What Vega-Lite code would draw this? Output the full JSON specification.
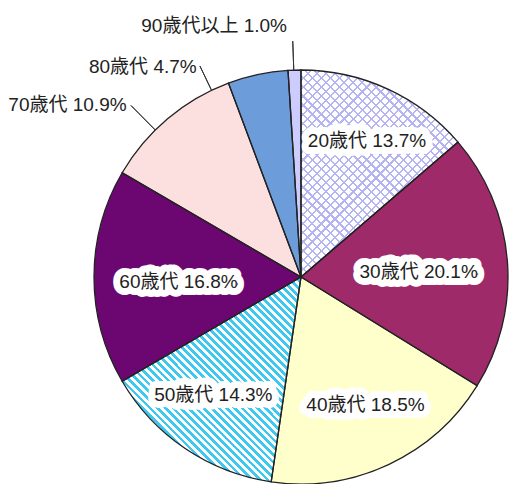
{
"$schema": "https://vega.github.io/schema/vega-lite/v6.json",
"width": 414, "height": 414,
"autosize": {"type": "none"},
"padding": {"left": 94, "top": 70, "right": 2, "bottom": 0},
"background": "white",
"config": {"view": {"stroke": null}, "text": {"font": "Liberation Sans, Noto Sans CJK JP", "fontSize": 19, "color": "#222222"}},
"data": {"values": [
{"age": "20歳代", "value": 13.7, "label": "20歳代 13.7%"},
{"age": "30歳代", "value": 20.1, "label": "30歳代 20.1%"},
{"age": "40歳代", "value": 18.5, "label": "40歳代 18.5%"},
{"age": "50歳代", "value": 14.3, "label": "50歳代 14.3%"},
{"age": "60歳代", "value": 16.8, "label": "60歳代 16.8%"},
{"age": "70歳代", "value": 10.9, "label": "70歳代 10.9%"},
{"age": "80歳代", "value": 4.7, "label": "80歳代 4.7%"},
{"age": "90歳代以上", "value": 1.0, "label": "90歳代以上 1.0%"}
]},
"encoding": {
"theta": {"field": "value", "type": "quantitative", "stack": true},
"detail": {"field": "age", "type": "nominal"},
"order": {"field": "age", "type": "ordinal", "sort": "ascending"}
},
"layer": [
{"mark": {"type": "arc", "outerRadius": 207},
 "encoding": {"color": {"field": "age", "type": "nominal", "legend": null,
  "scale": {"domain": ["20歳代","30歳代","40歳代","50歳代","60歳代","70歳代","80歳代","90歳代以上"],
            "range": ["#ffffff","#9e2a6a","#ffffcc","#ffffff","#6c0670","#fce0e0","#6c9cda","#ccccff"]}}}},
{"mark": {"type": "arc", "outerRadius": 207, "fill": {"gradient": "linear", "x1": 0, "y1": 1, "x2": 0.9283, "y2": -0.0627, "stops": [
{"offset":0,"color":"#3cc8f0"},{"offset":0.01,"color":"#3cc8f0"},{"offset":0.01,"color":"#ffffff"},{"offset":0.02,"color":"#ffffff"},
{"offset":0.02,"color":"#3cc8f0"},{"offset":0.03,"color":"#3cc8f0"},{"offset":0.03,"color":"#ffffff"},{"offset":0.04,"color":"#ffffff"},
{"offset":0.04,"color":"#3cc8f0"},{"offset":0.05,"color":"#3cc8f0"},{"offset":0.05,"color":"#ffffff"},{"offset":0.06,"color":"#ffffff"},
{"offset":0.06,"color":"#3cc8f0"},{"offset":0.07,"color":"#3cc8f0"},{"offset":0.07,"color":"#ffffff"},{"offset":0.08,"color":"#ffffff"},
{"offset":0.08,"color":"#3cc8f0"},{"offset":0.09,"color":"#3cc8f0"},{"offset":0.09,"color":"#ffffff"},{"offset":0.10,"color":"#ffffff"},
{"offset":0.10,"color":"#3cc8f0"},{"offset":0.11,"color":"#3cc8f0"},{"offset":0.11,"color":"#ffffff"},{"offset":0.12,"color":"#ffffff"},
{"offset":0.12,"color":"#3cc8f0"},{"offset":0.13,"color":"#3cc8f0"},{"offset":0.13,"color":"#ffffff"},{"offset":0.14,"color":"#ffffff"},
{"offset":0.14,"color":"#3cc8f0"},{"offset":0.15,"color":"#3cc8f0"},{"offset":0.15,"color":"#ffffff"},{"offset":0.16,"color":"#ffffff"},
{"offset":0.16,"color":"#3cc8f0"},{"offset":0.17,"color":"#3cc8f0"},{"offset":0.17,"color":"#ffffff"},{"offset":0.18,"color":"#ffffff"},
{"offset":0.18,"color":"#3cc8f0"},{"offset":0.19,"color":"#3cc8f0"},{"offset":0.19,"color":"#ffffff"},{"offset":0.20,"color":"#ffffff"},
{"offset":0.20,"color":"#3cc8f0"},{"offset":0.21,"color":"#3cc8f0"},{"offset":0.21,"color":"#ffffff"},{"offset":0.22,"color":"#ffffff"},
{"offset":0.22,"color":"#3cc8f0"},{"offset":0.23,"color":"#3cc8f0"},{"offset":0.23,"color":"#ffffff"},{"offset":0.24,"color":"#ffffff"},
{"offset":0.24,"color":"#3cc8f0"},{"offset":0.25,"color":"#3cc8f0"},{"offset":0.25,"color":"#ffffff"},{"offset":0.26,"color":"#ffffff"},
{"offset":0.26,"color":"#3cc8f0"},{"offset":0.27,"color":"#3cc8f0"},{"offset":0.27,"color":"#ffffff"},{"offset":0.28,"color":"#ffffff"},
{"offset":0.28,"color":"#3cc8f0"},{"offset":0.29,"color":"#3cc8f0"},{"offset":0.29,"color":"#ffffff"},{"offset":0.30,"color":"#ffffff"},
{"offset":0.30,"color":"#3cc8f0"},{"offset":0.31,"color":"#3cc8f0"},{"offset":0.31,"color":"#ffffff"},{"offset":0.32,"color":"#ffffff"},
{"offset":0.32,"color":"#3cc8f0"},{"offset":0.33,"color":"#3cc8f0"},{"offset":0.33,"color":"#ffffff"},{"offset":0.34,"color":"#ffffff"},
{"offset":0.34,"color":"#3cc8f0"},{"offset":0.35,"color":"#3cc8f0"},{"offset":0.35,"color":"#ffffff"},{"offset":0.36,"color":"#ffffff"},
{"offset":0.36,"color":"#3cc8f0"},{"offset":0.37,"color":"#3cc8f0"},{"offset":0.37,"color":"#ffffff"},{"offset":0.38,"color":"#ffffff"},
{"offset":0.38,"color":"#3cc8f0"},{"offset":0.39,"color":"#3cc8f0"},{"offset":0.39,"color":"#ffffff"},{"offset":0.40,"color":"#ffffff"},
{"offset":0.40,"color":"#3cc8f0"},{"offset":0.41,"color":"#3cc8f0"},{"offset":0.41,"color":"#ffffff"},{"offset":0.42,"color":"#ffffff"},
{"offset":0.42,"color":"#3cc8f0"},{"offset":0.43,"color":"#3cc8f0"},{"offset":0.43,"color":"#ffffff"},{"offset":0.44,"color":"#ffffff"},
{"offset":0.44,"color":"#3cc8f0"},{"offset":0.45,"color":"#3cc8f0"},{"offset":0.45,"color":"#ffffff"},{"offset":0.46,"color":"#ffffff"},
{"offset":0.46,"color":"#3cc8f0"},{"offset":0.47,"color":"#3cc8f0"},{"offset":0.47,"color":"#ffffff"},{"offset":0.48,"color":"#ffffff"},
{"offset":0.48,"color":"#3cc8f0"},{"offset":0.49,"color":"#3cc8f0"},{"offset":0.49,"color":"#ffffff"},{"offset":0.50,"color":"#ffffff"},
{"offset":0.50,"color":"#3cc8f0"},{"offset":0.51,"color":"#3cc8f0"},{"offset":0.51,"color":"#ffffff"},{"offset":0.52,"color":"#ffffff"},
{"offset":0.52,"color":"#3cc8f0"},{"offset":0.53,"color":"#3cc8f0"},{"offset":0.53,"color":"#ffffff"},{"offset":0.54,"color":"#ffffff"},
{"offset":0.54,"color":"#3cc8f0"},{"offset":0.55,"color":"#3cc8f0"},{"offset":0.55,"color":"#ffffff"},{"offset":0.56,"color":"#ffffff"},
{"offset":0.56,"color":"#3cc8f0"},{"offset":0.57,"color":"#3cc8f0"},{"offset":0.57,"color":"#ffffff"},{"offset":0.58,"color":"#ffffff"},
{"offset":0.58,"color":"#3cc8f0"},{"offset":0.59,"color":"#3cc8f0"},{"offset":0.59,"color":"#ffffff"},{"offset":0.60,"color":"#ffffff"},
{"offset":0.60,"color":"#3cc8f0"},{"offset":0.61,"color":"#3cc8f0"},{"offset":0.61,"color":"#ffffff"},{"offset":0.62,"color":"#ffffff"},
{"offset":0.62,"color":"#3cc8f0"},{"offset":0.63,"color":"#3cc8f0"},{"offset":0.63,"color":"#ffffff"},{"offset":0.64,"color":"#ffffff"},
{"offset":0.64,"color":"#3cc8f0"},{"offset":0.65,"color":"#3cc8f0"},{"offset":0.65,"color":"#ffffff"},{"offset":0.66,"color":"#ffffff"},
{"offset":0.66,"color":"#3cc8f0"},{"offset":0.67,"color":"#3cc8f0"},{"offset":0.67,"color":"#ffffff"},{"offset":0.68,"color":"#ffffff"},
{"offset":0.68,"color":"#3cc8f0"},{"offset":0.69,"color":"#3cc8f0"},{"offset":0.69,"color":"#ffffff"},{"offset":0.70,"color":"#ffffff"},
{"offset":0.70,"color":"#3cc8f0"},{"offset":0.71,"color":"#3cc8f0"},{"offset":0.71,"color":"#ffffff"},{"offset":0.72,"color":"#ffffff"},
{"offset":0.72,"color":"#3cc8f0"},{"offset":0.73,"color":"#3cc8f0"},{"offset":0.73,"color":"#ffffff"},{"offset":0.74,"color":"#ffffff"},
{"offset":0.74,"color":"#3cc8f0"},{"offset":0.75,"color":"#3cc8f0"},{"offset":0.75,"color":"#ffffff"},{"offset":0.76,"color":"#ffffff"},
{"offset":0.76,"color":"#3cc8f0"},{"offset":0.77,"color":"#3cc8f0"},{"offset":0.77,"color":"#ffffff"},{"offset":0.78,"color":"#ffffff"},
{"offset":0.78,"color":"#3cc8f0"},{"offset":0.79,"color":"#3cc8f0"},{"offset":0.79,"color":"#ffffff"},{"offset":0.80,"color":"#ffffff"},
{"offset":0.80,"color":"#3cc8f0"},{"offset":0.81,"color":"#3cc8f0"},{"offset":0.81,"color":"#ffffff"},{"offset":0.82,"color":"#ffffff"},
{"offset":0.82,"color":"#3cc8f0"},{"offset":0.83,"color":"#3cc8f0"},{"offset":0.83,"color":"#ffffff"},{"offset":0.84,"color":"#ffffff"},
{"offset":0.84,"color":"#3cc8f0"},{"offset":0.85,"color":"#3cc8f0"},{"offset":0.85,"color":"#ffffff"},{"offset":0.86,"color":"#ffffff"},
{"offset":0.86,"color":"#3cc8f0"},{"offset":0.87,"color":"#3cc8f0"},{"offset":0.87,"color":"#ffffff"},{"offset":0.88,"color":"#ffffff"},
{"offset":0.88,"color":"#3cc8f0"},{"offset":0.89,"color":"#3cc8f0"},{"offset":0.89,"color":"#ffffff"},{"offset":0.90,"color":"#ffffff"},
{"offset":0.90,"color":"#3cc8f0"},{"offset":0.91,"color":"#3cc8f0"},{"offset":0.91,"color":"#ffffff"},{"offset":0.92,"color":"#ffffff"},
{"offset":0.92,"color":"#3cc8f0"},{"offset":0.93,"color":"#3cc8f0"},{"offset":0.93,"color":"#ffffff"},{"offset":0.94,"color":"#ffffff"},
{"offset":0.94,"color":"#3cc8f0"},{"offset":0.95,"color":"#3cc8f0"},{"offset":0.95,"color":"#ffffff"},{"offset":0.96,"color":"#ffffff"},
{"offset":0.96,"color":"#3cc8f0"},{"offset":0.97,"color":"#3cc8f0"},{"offset":0.97,"color":"#ffffff"},{"offset":0.98,"color":"#ffffff"},
{"offset":0.98,"color":"#3cc8f0"},{"offset":0.99,"color":"#3cc8f0"},{"offset":0.99,"color":"#ffffff"},{"offset":1,"color":"#ffffff"}
]}},
 "encoding": {"opacity": {"condition": {"test": "datum.age === '50歳代'", "value": 1}, "value": 0}}},
{"mark": {"type": "arc", "outerRadius": 207, "fill": {"gradient": "linear", "x1": 0, "y1": 1, "x2": 0.8463, "y2": -0.1165, "stops": [
{"offset":0,"color":"#b4b4f2"},{"offset":0.006,"color":"#b4b4f2"},{"offset":0.006,"color":"#ffffff"},{"offset":0.025,"color":"#ffffff"},
{"offset":0.025,"color":"#b4b4f2"},{"offset":0.031,"color":"#b4b4f2"},{"offset":0.031,"color":"#ffffff"},{"offset":0.05,"color":"#ffffff"},
{"offset":0.05,"color":"#b4b4f2"},{"offset":0.056,"color":"#b4b4f2"},{"offset":0.056,"color":"#ffffff"},{"offset":0.075,"color":"#ffffff"},
{"offset":0.075,"color":"#b4b4f2"},{"offset":0.081,"color":"#b4b4f2"},{"offset":0.081,"color":"#ffffff"},{"offset":0.1,"color":"#ffffff"},
{"offset":0.1,"color":"#b4b4f2"},{"offset":0.106,"color":"#b4b4f2"},{"offset":0.106,"color":"#ffffff"},{"offset":0.125,"color":"#ffffff"},
{"offset":0.125,"color":"#b4b4f2"},{"offset":0.131,"color":"#b4b4f2"},{"offset":0.131,"color":"#ffffff"},{"offset":0.15,"color":"#ffffff"},
{"offset":0.15,"color":"#b4b4f2"},{"offset":0.156,"color":"#b4b4f2"},{"offset":0.156,"color":"#ffffff"},{"offset":0.175,"color":"#ffffff"},
{"offset":0.175,"color":"#b4b4f2"},{"offset":0.181,"color":"#b4b4f2"},{"offset":0.181,"color":"#ffffff"},{"offset":0.2,"color":"#ffffff"},
{"offset":0.2,"color":"#b4b4f2"},{"offset":0.206,"color":"#b4b4f2"},{"offset":0.206,"color":"#ffffff"},{"offset":0.225,"color":"#ffffff"},
{"offset":0.225,"color":"#b4b4f2"},{"offset":0.231,"color":"#b4b4f2"},{"offset":0.231,"color":"#ffffff"},{"offset":0.25,"color":"#ffffff"},
{"offset":0.25,"color":"#b4b4f2"},{"offset":0.256,"color":"#b4b4f2"},{"offset":0.256,"color":"#ffffff"},{"offset":0.275,"color":"#ffffff"},
{"offset":0.275,"color":"#b4b4f2"},{"offset":0.281,"color":"#b4b4f2"},{"offset":0.281,"color":"#ffffff"},{"offset":0.3,"color":"#ffffff"},
{"offset":0.3,"color":"#b4b4f2"},{"offset":0.306,"color":"#b4b4f2"},{"offset":0.306,"color":"#ffffff"},{"offset":0.325,"color":"#ffffff"},
{"offset":0.325,"color":"#b4b4f2"},{"offset":0.331,"color":"#b4b4f2"},{"offset":0.331,"color":"#ffffff"},{"offset":0.35,"color":"#ffffff"},
{"offset":0.35,"color":"#b4b4f2"},{"offset":0.356,"color":"#b4b4f2"},{"offset":0.356,"color":"#ffffff"},{"offset":0.375,"color":"#ffffff"},
{"offset":0.375,"color":"#b4b4f2"},{"offset":0.381,"color":"#b4b4f2"},{"offset":0.381,"color":"#ffffff"},{"offset":0.4,"color":"#ffffff"},
{"offset":0.4,"color":"#b4b4f2"},{"offset":0.406,"color":"#b4b4f2"},{"offset":0.406,"color":"#ffffff"},{"offset":0.425,"color":"#ffffff"},
{"offset":0.425,"color":"#b4b4f2"},{"offset":0.431,"color":"#b4b4f2"},{"offset":0.431,"color":"#ffffff"},{"offset":0.45,"color":"#ffffff"},
{"offset":0.45,"color":"#b4b4f2"},{"offset":0.456,"color":"#b4b4f2"},{"offset":0.456,"color":"#ffffff"},{"offset":0.475,"color":"#ffffff"},
{"offset":0.475,"color":"#b4b4f2"},{"offset":0.481,"color":"#b4b4f2"},{"offset":0.481,"color":"#ffffff"},{"offset":0.5,"color":"#ffffff"},
{"offset":0.5,"color":"#b4b4f2"},{"offset":0.506,"color":"#b4b4f2"},{"offset":0.506,"color":"#ffffff"},{"offset":0.525,"color":"#ffffff"},
{"offset":0.525,"color":"#b4b4f2"},{"offset":0.531,"color":"#b4b4f2"},{"offset":0.531,"color":"#ffffff"},{"offset":0.55,"color":"#ffffff"},
{"offset":0.55,"color":"#b4b4f2"},{"offset":0.556,"color":"#b4b4f2"},{"offset":0.556,"color":"#ffffff"},{"offset":0.575,"color":"#ffffff"},
{"offset":0.575,"color":"#b4b4f2"},{"offset":0.581,"color":"#b4b4f2"},{"offset":0.581,"color":"#ffffff"},{"offset":0.6,"color":"#ffffff"},
{"offset":0.6,"color":"#b4b4f2"},{"offset":0.606,"color":"#b4b4f2"},{"offset":0.606,"color":"#ffffff"},{"offset":0.625,"color":"#ffffff"},
{"offset":0.625,"color":"#b4b4f2"},{"offset":0.631,"color":"#b4b4f2"},{"offset":0.631,"color":"#ffffff"},{"offset":0.65,"color":"#ffffff"},
{"offset":0.65,"color":"#b4b4f2"},{"offset":0.656,"color":"#b4b4f2"},{"offset":0.656,"color":"#ffffff"},{"offset":0.675,"color":"#ffffff"},
{"offset":0.675,"color":"#b4b4f2"},{"offset":0.681,"color":"#b4b4f2"},{"offset":0.681,"color":"#ffffff"},{"offset":0.7,"color":"#ffffff"},
{"offset":0.7,"color":"#b4b4f2"},{"offset":0.706,"color":"#b4b4f2"},{"offset":0.706,"color":"#ffffff"},{"offset":0.725,"color":"#ffffff"},
{"offset":0.725,"color":"#b4b4f2"},{"offset":0.731,"color":"#b4b4f2"},{"offset":0.731,"color":"#ffffff"},{"offset":0.75,"color":"#ffffff"},
{"offset":0.75,"color":"#b4b4f2"},{"offset":0.756,"color":"#b4b4f2"},{"offset":0.756,"color":"#ffffff"},{"offset":0.775,"color":"#ffffff"},
{"offset":0.775,"color":"#b4b4f2"},{"offset":0.781,"color":"#b4b4f2"},{"offset":0.781,"color":"#ffffff"},{"offset":0.8,"color":"#ffffff"},
{"offset":0.8,"color":"#b4b4f2"},{"offset":0.806,"color":"#b4b4f2"},{"offset":0.806,"color":"#ffffff"},{"offset":0.825,"color":"#ffffff"},
{"offset":0.825,"color":"#b4b4f2"},{"offset":0.831,"color":"#b4b4f2"},{"offset":0.831,"color":"#ffffff"},{"offset":0.85,"color":"#ffffff"},
{"offset":0.85,"color":"#b4b4f2"},{"offset":0.856,"color":"#b4b4f2"},{"offset":0.856,"color":"#ffffff"},{"offset":0.875,"color":"#ffffff"},
{"offset":0.875,"color":"#b4b4f2"},{"offset":0.881,"color":"#b4b4f2"},{"offset":0.881,"color":"#ffffff"},{"offset":0.9,"color":"#ffffff"},
{"offset":0.9,"color":"#b4b4f2"},{"offset":0.906,"color":"#b4b4f2"},{"offset":0.906,"color":"#ffffff"},{"offset":0.925,"color":"#ffffff"},
{"offset":0.925,"color":"#b4b4f2"},{"offset":0.931,"color":"#b4b4f2"},{"offset":0.931,"color":"#ffffff"},{"offset":0.95,"color":"#ffffff"},
{"offset":0.95,"color":"#b4b4f2"},{"offset":0.956,"color":"#b4b4f2"},{"offset":0.956,"color":"#ffffff"},{"offset":0.975,"color":"#ffffff"},
{"offset":0.975,"color":"#b4b4f2"},{"offset":0.981,"color":"#b4b4f2"},{"offset":0.981,"color":"#ffffff"},{"offset":1,"color":"#ffffff"}
]}},
 "encoding": {"opacity": {"condition": {"test": "datum.age === '20歳代'", "value": 1}, "value": 0}}},
{"mark": {"type": "arc", "outerRadius": 207, "fill": {"gradient": "linear", "x1": 0, "y1": 0, "x2": 0.8463, "y2": 1.1165, "stops": [
{"offset":0,"color":"#b4b4f2"},{"offset":0.006,"color":"#b4b4f2"},{"offset":0.006,"color":"rgba(255,255,255,0)"},{"offset":0.025,"color":"rgba(255,255,255,0)"},
{"offset":0.025,"color":"#b4b4f2"},{"offset":0.031,"color":"#b4b4f2"},{"offset":0.031,"color":"rgba(255,255,255,0)"},{"offset":0.05,"color":"rgba(255,255,255,0)"},
{"offset":0.05,"color":"#b4b4f2"},{"offset":0.056,"color":"#b4b4f2"},{"offset":0.056,"color":"rgba(255,255,255,0)"},{"offset":0.075,"color":"rgba(255,255,255,0)"},
{"offset":0.075,"color":"#b4b4f2"},{"offset":0.081,"color":"#b4b4f2"},{"offset":0.081,"color":"rgba(255,255,255,0)"},{"offset":0.1,"color":"rgba(255,255,255,0)"},
{"offset":0.1,"color":"#b4b4f2"},{"offset":0.106,"color":"#b4b4f2"},{"offset":0.106,"color":"rgba(255,255,255,0)"},{"offset":0.125,"color":"rgba(255,255,255,0)"},
{"offset":0.125,"color":"#b4b4f2"},{"offset":0.131,"color":"#b4b4f2"},{"offset":0.131,"color":"rgba(255,255,255,0)"},{"offset":0.15,"color":"rgba(255,255,255,0)"},
{"offset":0.15,"color":"#b4b4f2"},{"offset":0.156,"color":"#b4b4f2"},{"offset":0.156,"color":"rgba(255,255,255,0)"},{"offset":0.175,"color":"rgba(255,255,255,0)"},
{"offset":0.175,"color":"#b4b4f2"},{"offset":0.181,"color":"#b4b4f2"},{"offset":0.181,"color":"rgba(255,255,255,0)"},{"offset":0.2,"color":"rgba(255,255,255,0)"},
{"offset":0.2,"color":"#b4b4f2"},{"offset":0.206,"color":"#b4b4f2"},{"offset":0.206,"color":"rgba(255,255,255,0)"},{"offset":0.225,"color":"rgba(255,255,255,0)"},
{"offset":0.225,"color":"#b4b4f2"},{"offset":0.231,"color":"#b4b4f2"},{"offset":0.231,"color":"rgba(255,255,255,0)"},{"offset":0.25,"color":"rgba(255,255,255,0)"},
{"offset":0.25,"color":"#b4b4f2"},{"offset":0.256,"color":"#b4b4f2"},{"offset":0.256,"color":"rgba(255,255,255,0)"},{"offset":0.275,"color":"rgba(255,255,255,0)"},
{"offset":0.275,"color":"#b4b4f2"},{"offset":0.281,"color":"#b4b4f2"},{"offset":0.281,"color":"rgba(255,255,255,0)"},{"offset":0.3,"color":"rgba(255,255,255,0)"},
{"offset":0.3,"color":"#b4b4f2"},{"offset":0.306,"color":"#b4b4f2"},{"offset":0.306,"color":"rgba(255,255,255,0)"},{"offset":0.325,"color":"rgba(255,255,255,0)"},
{"offset":0.325,"color":"#b4b4f2"},{"offset":0.331,"color":"#b4b4f2"},{"offset":0.331,"color":"rgba(255,255,255,0)"},{"offset":0.35,"color":"rgba(255,255,255,0)"},
{"offset":0.35,"color":"#b4b4f2"},{"offset":0.356,"color":"#b4b4f2"},{"offset":0.356,"color":"rgba(255,255,255,0)"},{"offset":0.375,"color":"rgba(255,255,255,0)"},
{"offset":0.375,"color":"#b4b4f2"},{"offset":0.381,"color":"#b4b4f2"},{"offset":0.381,"color":"rgba(255,255,255,0)"},{"offset":0.4,"color":"rgba(255,255,255,0)"},
{"offset":0.4,"color":"#b4b4f2"},{"offset":0.406,"color":"#b4b4f2"},{"offset":0.406,"color":"rgba(255,255,255,0)"},{"offset":0.425,"color":"rgba(255,255,255,0)"},
{"offset":0.425,"color":"#b4b4f2"},{"offset":0.431,"color":"#b4b4f2"},{"offset":0.431,"color":"rgba(255,255,255,0)"},{"offset":0.45,"color":"rgba(255,255,255,0)"},
{"offset":0.45,"color":"#b4b4f2"},{"offset":0.456,"color":"#b4b4f2"},{"offset":0.456,"color":"rgba(255,255,255,0)"},{"offset":0.475,"color":"rgba(255,255,255,0)"},
{"offset":0.475,"color":"#b4b4f2"},{"offset":0.481,"color":"#b4b4f2"},{"offset":0.481,"color":"rgba(255,255,255,0)"},{"offset":0.5,"color":"rgba(255,255,255,0)"},
{"offset":0.5,"color":"#b4b4f2"},{"offset":0.506,"color":"#b4b4f2"},{"offset":0.506,"color":"rgba(255,255,255,0)"},{"offset":0.525,"color":"rgba(255,255,255,0)"},
{"offset":0.525,"color":"#b4b4f2"},{"offset":0.531,"color":"#b4b4f2"},{"offset":0.531,"color":"rgba(255,255,255,0)"},{"offset":0.55,"color":"rgba(255,255,255,0)"},
{"offset":0.55,"color":"#b4b4f2"},{"offset":0.556,"color":"#b4b4f2"},{"offset":0.556,"color":"rgba(255,255,255,0)"},{"offset":0.575,"color":"rgba(255,255,255,0)"},
{"offset":0.575,"color":"#b4b4f2"},{"offset":0.581,"color":"#b4b4f2"},{"offset":0.581,"color":"rgba(255,255,255,0)"},{"offset":0.6,"color":"rgba(255,255,255,0)"},
{"offset":0.6,"color":"#b4b4f2"},{"offset":0.606,"color":"#b4b4f2"},{"offset":0.606,"color":"rgba(255,255,255,0)"},{"offset":0.625,"color":"rgba(255,255,255,0)"},
{"offset":0.625,"color":"#b4b4f2"},{"offset":0.631,"color":"#b4b4f2"},{"offset":0.631,"color":"rgba(255,255,255,0)"},{"offset":0.65,"color":"rgba(255,255,255,0)"},
{"offset":0.65,"color":"#b4b4f2"},{"offset":0.656,"color":"#b4b4f2"},{"offset":0.656,"color":"rgba(255,255,255,0)"},{"offset":0.675,"color":"rgba(255,255,255,0)"},
{"offset":0.675,"color":"#b4b4f2"},{"offset":0.681,"color":"#b4b4f2"},{"offset":0.681,"color":"rgba(255,255,255,0)"},{"offset":0.7,"color":"rgba(255,255,255,0)"},
{"offset":0.7,"color":"#b4b4f2"},{"offset":0.706,"color":"#b4b4f2"},{"offset":0.706,"color":"rgba(255,255,255,0)"},{"offset":0.725,"color":"rgba(255,255,255,0)"},
{"offset":0.725,"color":"#b4b4f2"},{"offset":0.731,"color":"#b4b4f2"},{"offset":0.731,"color":"rgba(255,255,255,0)"},{"offset":0.75,"color":"rgba(255,255,255,0)"},
{"offset":0.75,"color":"#b4b4f2"},{"offset":0.756,"color":"#b4b4f2"},{"offset":0.756,"color":"rgba(255,255,255,0)"},{"offset":0.775,"color":"rgba(255,255,255,0)"},
{"offset":0.775,"color":"#b4b4f2"},{"offset":0.781,"color":"#b4b4f2"},{"offset":0.781,"color":"rgba(255,255,255,0)"},{"offset":0.8,"color":"rgba(255,255,255,0)"},
{"offset":0.8,"color":"#b4b4f2"},{"offset":0.806,"color":"#b4b4f2"},{"offset":0.806,"color":"rgba(255,255,255,0)"},{"offset":0.825,"color":"rgba(255,255,255,0)"},
{"offset":0.825,"color":"#b4b4f2"},{"offset":0.831,"color":"#b4b4f2"},{"offset":0.831,"color":"rgba(255,255,255,0)"},{"offset":0.85,"color":"rgba(255,255,255,0)"},
{"offset":0.85,"color":"#b4b4f2"},{"offset":0.856,"color":"#b4b4f2"},{"offset":0.856,"color":"rgba(255,255,255,0)"},{"offset":0.875,"color":"rgba(255,255,255,0)"},
{"offset":0.875,"color":"#b4b4f2"},{"offset":0.881,"color":"#b4b4f2"},{"offset":0.881,"color":"rgba(255,255,255,0)"},{"offset":0.9,"color":"rgba(255,255,255,0)"},
{"offset":0.9,"color":"#b4b4f2"},{"offset":0.906,"color":"#b4b4f2"},{"offset":0.906,"color":"rgba(255,255,255,0)"},{"offset":0.925,"color":"rgba(255,255,255,0)"},
{"offset":0.925,"color":"#b4b4f2"},{"offset":0.931,"color":"#b4b4f2"},{"offset":0.931,"color":"rgba(255,255,255,0)"},{"offset":0.95,"color":"rgba(255,255,255,0)"},
{"offset":0.95,"color":"#b4b4f2"},{"offset":0.956,"color":"#b4b4f2"},{"offset":0.956,"color":"rgba(255,255,255,0)"},{"offset":0.975,"color":"rgba(255,255,255,0)"},
{"offset":0.975,"color":"#b4b4f2"},{"offset":0.981,"color":"#b4b4f2"},{"offset":0.981,"color":"rgba(255,255,255,0)"},{"offset":1,"color":"rgba(255,255,255,0)"}
]}},
 "encoding": {"opacity": {"condition": {"test": "datum.age === '20歳代'", "value": 1}, "value": 0}}},
{"mark": {"type": "arc", "outerRadius": 207, "fillOpacity": 0, "stroke": "#222222", "strokeWidth": 1.3}},
{"transform": [{"filter": "datum.age === '70歳代'"}],
 "mark": {"type": "arc", "outerRadius": 241.5, "innerRadius": 207, "fillOpacity": 0, "stroke": "#333333", "strokeWidth": 1},
 "encoding": {"theta": {"value": 5.50218}, "theta2": {"value": 5.50218}}},
{"transform": [{"filter": "datum.age === '80歳代'"}],
 "mark": {"type": "arc", "outerRadius": 234, "innerRadius": 207, "fillOpacity": 0, "stroke": "#333333", "strokeWidth": 1},
 "encoding": {"theta": {"value": 5.83638}, "theta2": {"value": 5.83638}}},
{"transform": [{"filter": "datum.age === '90歳代以上'"}],
 "mark": {"type": "arc", "outerRadius": 236, "innerRadius": 207, "fillOpacity": 0, "stroke": "#333333", "strokeWidth": 1},
 "encoding": {"theta": {"value": 6.24828}, "theta2": {"value": 6.24828}}},
{"mark": {"type": "text", "radius": 151, "dx": 3, "dy": 1.5, "fill": "white", "stroke": "white", "strokeWidth": 14, "strokeJoin": "round"},
 "encoding": {"text": {"field": "label"}, "opacity": {"condition": {"test": "datum.age === '20歳代'", "value": 1}, "value": 0}}},
{"mark": {"type": "text", "radius": 118, "dx": 0, "dy": 4.5, "fill": "white", "stroke": "white", "strokeWidth": 14, "strokeJoin": "round"},
 "encoding": {"text": {"field": "label"}, "opacity": {"condition": {"test": "datum.age === '30歳代'", "value": 1}, "value": 0}}},
{"mark": {"type": "text", "radius": 143, "dx": 4, "dy": -1.5, "fill": "white", "stroke": "white", "strokeWidth": 14, "strokeJoin": "round"},
 "encoding": {"text": {"field": "label"}, "opacity": {"condition": {"test": "datum.age === '40歳代'", "value": 1}, "value": 0}}},
{"mark": {"type": "text", "radius": 146, "dx": -6, "dy": -3.5, "fill": "white", "stroke": "white", "strokeWidth": 14, "strokeJoin": "round"},
 "encoding": {"text": {"field": "label"}, "opacity": {"condition": {"test": "datum.age === '50歳代'", "value": 1}, "value": 0}}},
{"mark": {"type": "text", "radius": 122.5, "dx": 0, "dy": 5, "fill": "white", "stroke": "white", "strokeWidth": 14, "strokeJoin": "round"},
 "encoding": {"text": {"field": "label"}, "opacity": {"condition": {"test": "datum.age === '60歳代'", "value": 1}, "value": 0}}},
{"mark": {"type": "text", "radius": 151, "dx": 3, "dy": 1.5},
 "encoding": {"text": {"field": "label"}, "opacity": {"condition": {"test": "datum.age === '20歳代'", "value": 1}, "value": 0}}},
{"mark": {"type": "text", "radius": 118, "dx": 0, "dy": 4.5},
 "encoding": {"text": {"field": "label"}, "opacity": {"condition": {"test": "datum.age === '30歳代'", "value": 1}, "value": 0}}},
{"mark": {"type": "text", "radius": 143, "dx": 4, "dy": -1.5},
 "encoding": {"text": {"field": "label"}, "opacity": {"condition": {"test": "datum.age === '40歳代'", "value": 1}, "value": 0}}},
{"mark": {"type": "text", "radius": 146, "dx": -6, "dy": -3.5},
 "encoding": {"text": {"field": "label"}, "opacity": {"condition": {"test": "datum.age === '50歳代'", "value": 1}, "value": 0}}},
{"mark": {"type": "text", "radius": 122.5, "dx": 0, "dy": 5},
 "encoding": {"text": {"field": "label"}, "opacity": {"condition": {"test": "datum.age === '60歳代'", "value": 1}, "value": 0}}},
{"mark": {"type": "text", "radius": 241.5, "dx": -18.7, "dy": 12.7, "align": "right"},
 "encoding": {"text": {"field": "label"}, "opacity": {"condition": {"test": "datum.age === '70歳代'", "value": 1}, "value": 0}}},
{"mark": {"type": "text", "radius": 234, "dx": -55.4, "dy": 19.3, "align": "right"},
 "encoding": {"text": {"field": "label"}, "opacity": {"condition": {"test": "datum.age === '80歳代'", "value": 1}, "value": 0}}},
{"mark": {"type": "text", "radius": 236, "dx": -6.6, "dy": -15.1, "align": "right"},
 "encoding": {"text": {"field": "label"}, "opacity": {"condition": {"test": "datum.age === '90歳代以上'", "value": 1}, "value": 0}}}
]
}
